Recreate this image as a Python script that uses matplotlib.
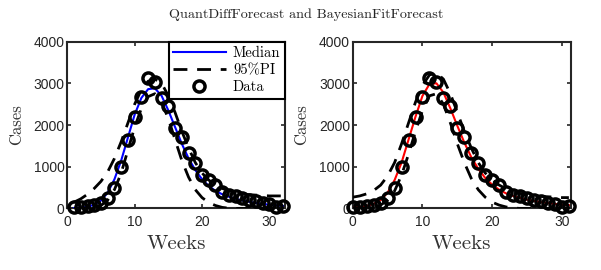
import matplotlib
matplotlib.use("Agg")
import matplotlib.pyplot as plt

# observed weekly cases
cases = [30, 40, 50, 80, 120, 250, 500, 1000, 1650, 2200, 2680, 3130,
         3020, 2650, 2450, 1930, 1720, 1330, 1080, 800, 680, 550, 400, 330,
         290, 250, 200, 170, 130, 100, 40, 50]

# QuantDiffForecast (left panel, weeks 1..32)
weeks_q = list(range(1, 33))
median_q = [10, 20, 40, 90, 190, 380, 700, 1150, 1700, 2250, 2650, 2860,
            2880, 2700, 2350, 1950, 1550, 1200, 920, 700, 540, 420, 340, 280,
            230, 190, 160, 130, 110, 90, 75, 60]
upper_q = [150, 230, 340, 480, 650, 880, 1200, 1600, 2050, 2500, 2850, 3050,
           3100, 3000, 2700, 2300, 1850, 1450, 1100, 850, 680, 560, 480, 420,
           380, 350, 330, 320, 310, 300, 300, 300]
lower_q = [0, 0, 0, 20, 70, 200, 450, 850, 1400, 1950, 2400, 2680,
           2750, 2550, 2150, 1650, 1150, 750, 450, 260, 140, 70, 25, 5,
           0, 0, 0, 0, 0, 0, 0, 0]

# BayesianFitForecast (right panel, weeks 0..31)
weeks_b = list(range(0, 32))
median_b = [20, 35, 60, 110, 200, 380, 680, 1100, 1650, 2200, 2700, 2980,
            3000, 2780, 2400, 1980, 1580, 1230, 950, 730, 570, 450, 360, 300,
            250, 210, 180, 150, 130, 110, 90, 80]
upper_b = [270, 300, 350, 430, 560, 780, 1100, 1550, 2050, 2550, 2950, 3200,
           3250, 3100, 2750, 2300, 1850, 1450, 1100, 850, 680, 560, 470, 410,
           360, 330, 300, 290, 280, 270, 260, 260]
lower_b = [0, 0, 0, 20, 80, 200, 420, 800, 1300, 1850, 2350, 2700,
           2750, 2500, 2050, 1550, 1100, 720, 450, 270, 150, 80, 35, 10,
           0, 0, 0, 0, 0, 0, 0, 0]

yticks = [0, 1000, 2000, 3000, 4000]
xticks = [0, 10, 20, 30]

SERIF = "cmr10"
TICK_FONT = "Liberation Sans"
DARK = "#262626"

fig = plt.figure(figsize=(6.01, 2.70), dpi=100)
ax1 = fig.add_axes([0.112, 0.228, 0.362, 0.618])
ax2 = fig.add_axes([0.587, 0.228, 0.363, 0.618])

panels = [
    (ax1, weeks_q, median_q, upper_q, lower_q, "#0000ff", (0.83, 32.3)),
    (ax2, weeks_b, median_b, upper_b, lower_b, "#ff0000", (0, 31.3)),
]

for ax, wk, med, up, lo, col, xl in panels:
    ax.plot(wk, med, color=col, lw=1.5, label="Median", zorder=3)
    ax.plot(wk, up, color="black", lw=2.0, ls=(0, (5, 3.5)), label="95%PI", zorder=3)
    ax.plot(wk, lo, color="black", lw=2.0, ls=(0, (5, 3.5)), zorder=3)
    ax.plot(wk, cases, ls="none", marker="o", ms=8, mfc="none", mec="black",
            mew=2.5, label="Data", zorder=4, clip_on=False)
    ax.set_xlim(*xl)
    ax.set_ylim(0, 4000)
    ax.set_xticks(xticks)
    ax.set_yticks(yticks)
    ax.tick_params(direction="in", length=3, width=1.2, top=True, right=True,
                   colors=DARK, labelsize=10)
    ax.tick_params(axis="x", pad=5)
    ax.tick_params(axis="y", pad=2)
    for lab in ax.get_xticklabels() + ax.get_yticklabels():
        lab.set_fontfamily(TICK_FONT)
    for sp in ax.spines.values():
        sp.set_linewidth(1.5)
        sp.set_color(DARK)
    ax.set_xlabel("Weeks", fontfamily=SERIF, fontsize=15, color="#333333", labelpad=4)
    ax.set_ylabel("Cases", fontfamily=SERIF, fontsize=12, color="#333333", labelpad=7)

leg = ax1.legend(loc="upper right", bbox_to_anchor=(1.0, 1.0), borderaxespad=0,
                 prop={"family": SERIF, "size": 10.5}, fancybox=False,
                 framealpha=1, edgecolor="black", handlelength=3.6,
                 handletextpad=0.5, borderpad=0.3, labelspacing=0.25)
leg.get_frame().set_linewidth(1.5)

fig.text(0.51, 0.945, "QuantDiffForecast and BayesianFitForecast",
         ha="center", va="center", fontfamily=SERIF, fontsize=10.2, color="#222222")

fig.savefig("out.png", dpi=100)
